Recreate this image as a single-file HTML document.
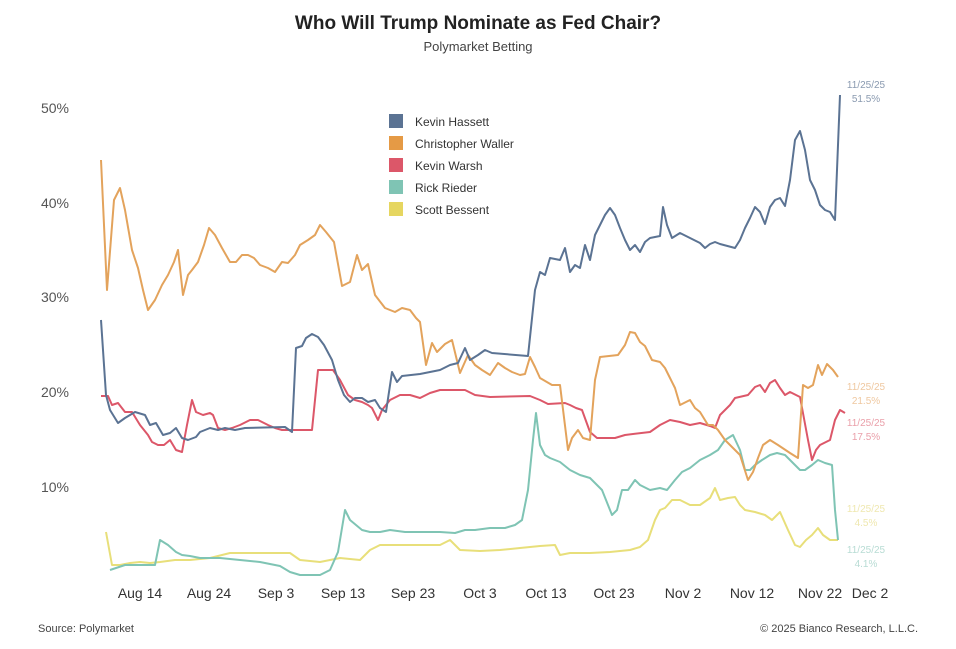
<!DOCTYPE html>
<html><head><meta charset="utf-8"><style>
body{margin:0;background:#fff;width:956px;height:644px;overflow:hidden;font-family:"Liberation Sans",sans-serif}
svg text{font-family:"Liberation Sans",sans-serif}
</style></head><body>
<svg width="956" height="644" viewBox="0 0 956 644" xmlns="http://www.w3.org/2000/svg">
<text x="478" y="29" text-anchor="middle" font-size="19" font-weight="bold" fill="#222">Who Will Trump Nominate as Fed Chair?</text>
<text x="478" y="51" text-anchor="middle" font-size="13" fill="#444">Polymarket Betting</text>
<g font-size="14" fill="#555" text-anchor="end">
<text x="69" y="113">50%</text><text x="69" y="208">40%</text><text x="69" y="302">30%</text><text x="69" y="397">20%</text><text x="69" y="492">10%</text>
</g>
<g font-size="14" fill="#333" text-anchor="middle">
<text x="140" y="598">Aug 14</text><text x="209" y="598">Aug 24</text><text x="276" y="598">Sep 3</text><text x="343" y="598">Sep 13</text><text x="413" y="598">Sep 23</text><text x="480" y="598">Oct 3</text><text x="546" y="598">Oct 13</text><text x="614" y="598">Oct 23</text><text x="683" y="598">Nov 2</text><text x="752" y="598">Nov 12</text><text x="820" y="598">Nov 22</text><text x="870" y="598">Dec 2</text>
</g>
<text x="38" y="632" font-size="11" fill="#444">Source: Polymarket</text>
<text x="918" y="632" font-size="11" fill="#444" text-anchor="end">© 2025 Bianco Research, L.L.C.</text>
<g font-size="12" fill="#333">
<rect x="389" y="114" width="14" height="14" fill="#5b7393"/><text x="415" y="126">Kevin Hassett</text>
<rect x="389" y="136" width="14" height="14" fill="#e59a45"/><text x="415" y="148">Christopher Waller</text>
<rect x="389" y="158" width="14" height="14" fill="#dc5769"/><text x="415" y="170">Kevin Warsh</text>
<rect x="389" y="180" width="14" height="14" fill="#7fc4b4"/><text x="415" y="192">Rick Rieder</text>
<rect x="389" y="202" width="14" height="14" fill="#e6d660"/><text x="415" y="214">Scott Bessent</text>
</g>
<g fill="none" stroke-width="2" stroke-linejoin="round">
<polyline stroke="#e8df7a" points="106,532 112,565 120,565 130,563 140,562 150,563 160,562 175,560 190,560 210,558 230,553 260,553 290,553 300,560 320,562 340,558 360,560 370,550 380,545 400,545 420,545 440,545 450,540 460,550 480,551 500,550 520,548 540,546 555,545 560,555 570,553 590,553 610,552 630,550 640,547 648,540 655,520 660,510 665,508 672,500 680,500 690,505 700,505 710,498 715,488 720,500 728,498 735,497 740,505 745,510 755,512 765,515 772,520 780,512 788,530 795,545 800,547 806,540 812,535 818,528 823,535 830,540 838,540"/>
<polyline stroke="#7fc4b4" points="110,570 125,565 140,565 155,565 160,540 168,545 176,552 182,555 190,556 200,558 220,558 240,560 260,562 280,566 290,572 300,575 320,575 330,570 338,552 345,510 350,520 356,525 362,530 370,532 380,532 390,530 405,532 440,532 455,533 465,530 475,530 490,528 505,528 515,525 522,520 528,490 533,440 536,413 540,445 545,455 550,458 560,462 570,470 580,475 590,478 597,485 602,490 608,505 612,515 617,510 622,490 628,490 635,480 640,485 650,490 660,488 667,490 675,480 682,472 690,468 700,460 710,455 718,450 725,440 733,435 740,450 745,470 750,470 755,465 762,460 770,455 777,453 785,455 793,463 800,470 805,470 812,465 818,460 825,463 832,465 835,510 838,540"/>
<polyline stroke="#dc5769" points="101,396 108,396 112,405 118,403 125,412 132,412 140,425 148,435 152,442 158,445 164,445 170,440 176,450 182,452 187,425 192,400 196,412 203,415 210,413 213,415 218,428 225,430 232,428 240,425 250,420 258,420 268,425 275,428 282,430 312,430 318,370 333,370 340,380 348,395 355,400 362,402 368,405 372,408 378,420 382,410 390,400 400,395 410,395 420,398 430,393 440,390 465,390 475,395 490,397 530,396 540,400 548,404 565,403 570,405 576,408 582,410 590,432 597,438 615,438 625,435 650,432 660,425 670,420 680,422 690,425 700,423 710,426 715,428 720,415 725,410 730,405 735,398 748,395 755,387 760,385 765,392 770,383 775,380 780,388 785,395 790,392 800,397 808,440 812,460 816,450 820,445 830,440 835,420 840,410 845,413"/>
<polyline stroke="#e3a35c" points="101,160 107,290 114,200 120,188 125,210 132,250 138,268 143,290 148,310 155,300 162,285 168,275 174,262 178,250 183,295 188,275 192,270 198,262 204,245 209,228 215,235 222,248 230,262 236,262 242,255 248,255 254,258 260,265 268,268 275,272 282,262 288,263 295,255 300,245 308,240 315,235 320,225 326,232 334,242 342,286 350,282 357,255 362,270 368,264 375,295 385,308 395,312 402,308 410,310 416,318 420,322 426,365 432,343 437,352 445,344 452,340 460,373 468,355 475,365 482,370 490,375 498,363 505,368 512,372 520,375 525,374 530,357 535,367 540,378 552,385 560,385 568,450 572,438 578,430 583,438 590,440 595,380 600,357 618,355 625,345 630,332 635,333 640,342 645,346 652,360 660,362 665,368 670,378 675,388 680,405 690,400 695,408 700,412 708,425 713,425 718,430 725,440 730,445 740,455 748,480 753,472 758,458 763,445 770,440 778,445 790,453 798,458 803,385 808,388 813,385 818,365 822,375 827,364 833,370 838,377"/>
<polyline stroke="#5b7393" points="101,320 106,395 110,410 118,423 125,418 135,412 145,415 150,425 156,423 163,435 170,433 176,428 182,438 188,440 196,437 200,432 210,428 218,430 225,428 235,430 245,428 285,427 292,432 296,348 302,346 306,338 312,334 318,337 324,345 332,360 338,380 344,395 350,402 355,398 362,398 368,402 375,400 380,408 386,412 392,372 397,382 402,376 420,374 440,370 450,365 458,363 465,348 470,360 478,355 485,350 492,353 528,356 535,290 540,272 545,275 550,258 560,260 565,248 570,272 575,265 580,268 585,245 590,260 595,235 600,225 605,215 610,208 615,215 620,228 625,240 630,250 635,245 640,252 645,242 650,238 660,236 663,207 667,225 672,238 680,233 690,238 700,243 705,248 710,244 715,242 720,244 735,248 740,240 745,228 750,218 755,207 760,212 765,224 770,207 775,200 780,198 785,206 790,180 795,140 800,131 805,150 810,180 815,190 820,205 825,210 830,212 835,220 840,95"/>
</g>
<g font-size="10" text-anchor="middle">
<text x="866" y="88" fill="#8a9ab0">11/25/25</text><text x="866" y="102" fill="#8a9ab0">51.5%</text>
<text x="866" y="390" fill="#efc8a0">11/25/25</text><text x="866" y="404" fill="#efc8a0">21.5%</text>
<text x="866" y="426" fill="#eaa0aa">11/25/25</text><text x="866" y="440" fill="#eaa0aa">17.5%</text>
<text x="866" y="512" fill="#f0ea b0" style="fill:#efe8b0">11/25/25</text><text x="866" y="526" style="fill:#efe8b0">4.5%</text>
<text x="866" y="553" fill="#b8dcd4">11/25/25</text><text x="866" y="567" fill="#b8dcd4">4.1%</text>
</g>
</svg>
</body></html>
